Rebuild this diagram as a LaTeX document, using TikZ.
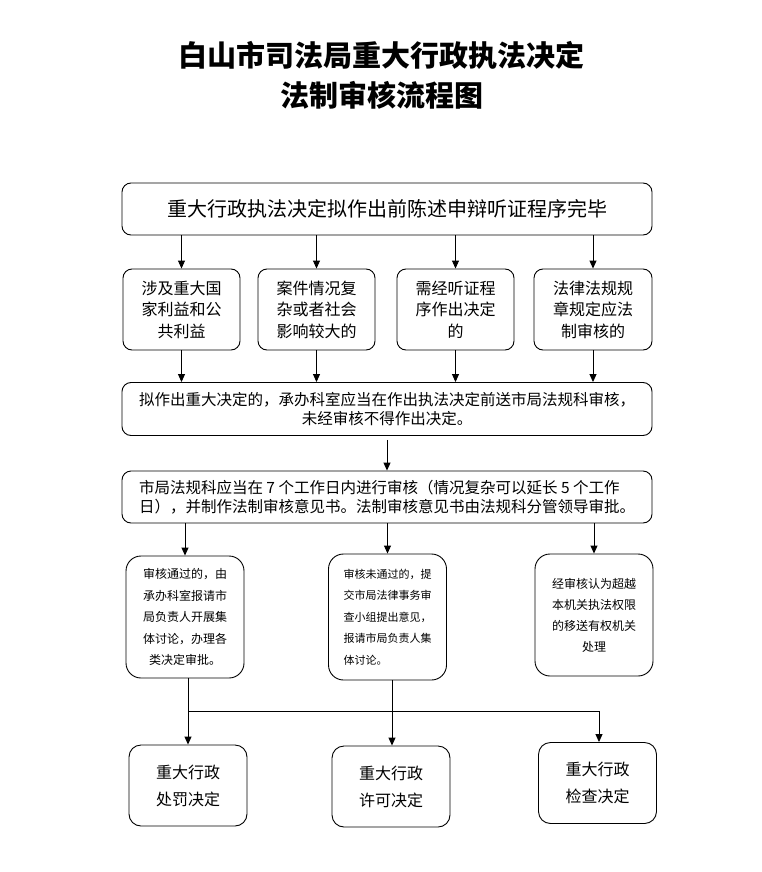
\documentclass[tikz,border=0pt]{standalone}
\usepackage{fontspec}
\setmainfont{Noto Sans CJK SC}
\usetikzlibrary{arrows.meta}
\begin{document}
\begin{tikzpicture}[x=1pt,y=-1pt,
  box/.style={draw, line width=0.9pt, rounded corners=9pt, inner sep=0pt, align=center},
  arr/.style={-{Triangle[length=8pt,width=7pt]}, line width=0.9pt},
  ln/.style={line width=0.9pt},
  rowone/.style={box, minimum width=117pt, minimum height=81pt, font=\fontsize{16}{21.5}\selectfont},
  rowthree/.style={box, rounded corners=15pt, minimum width=118pt, minimum height=122pt},
  rowfour/.style={box, rounded corners=12pt, minimum width=118pt, minimum height=81pt, font=\fontsize{16}{27}\selectfont}]
\useasboundingbox (0,0) rectangle (762,872);

\node[font=\fontsize{29}{40}\selectfont\bfseries, align=center] (title) at (381.5,75) {白山市司法局重大行政执法决定\\法制审核流程图};

\node[box, minimum width=530pt, minimum height=52pt, font=\fontsize{20}{24}\selectfont] (top) at (387,209) {重大行政执法决定拟作出前陈述申辩听证程序完毕};

\node[rowone] (b1) at (181.5,309.5) {涉及重大国\\家利益和公\\共利益};
\node[rowone] (b2) at (316.5,309.5) {案件情况复\\杂或者社会\\影响较大的};
\node[rowone] (b3) at (455.5,309.5) {需经听证程\\序作出决定\\的};
\node[rowone, minimum width=118pt] (b4) at (593,309.5) {法律法规规\\章规定应法\\制审核的};

\foreach \b in {b1,b2,b3,b4}{
  \draw[arr] (top.south -| \b) -- (\b.north);
}

\node[box, minimum width=530pt, minimum height=53pt, font=\fontsize{15.5}{19}\selectfont] (m1) at (387,409) {拟作出重大决定的，承办科室应当在作出执法决定前送市局法规科审核，\\未经审核不得作出决定。};

\foreach \b in {b1,b2,b3,b4}{
  \draw[arr] (\b.south) -- (\b.south |- m1.north);
}

\node[box, minimum width=530pt, minimum height=52pt, align=left, font=\fontsize{15.5}{18.5}\selectfont] (m2) at (387,497) {市局法规科应当在 7 个工作日内进行审核（情况复杂可以延长 5 个工作\\日），并制作法制审核意见书。法制审核意见书由法规科分管领导审批。};

\draw[arr] ([yshift=-4pt]m1.south) -- (m2.north);

\node[rowthree, font=\fontsize{12}{21.5}\selectfont] (A) at (185,617) {审核通过的，由\\承办科室报请市\\局负责人开展集\\体讨论，办理各\\类决定审批。};
\node[rowthree, minimum height=126pt, align=left, font=\fontsize{11}{21.5}\selectfont] (B) at (387.5,617) {审核未通过的，提\\交市局法律事务审\\查小组提出意见，\\报请市局负责人集\\体讨论。};
\node[rowthree, font=\fontsize{12}{21}\selectfont] (C) at (594,615) {经审核认为超越\\本机关执法权限\\的移送有权机关\\处理};

\foreach \b in {A,B,C}{
  \draw[arr] (m2.south -| \b) -- (\b.north);
}

\node[rowfour] (D1) at (188,785.5) {重大行政\\处罚决定};
\node[rowfour] (D2) at (391,786.5) {重大行政\\许可决定};
\node[rowfour] (D3) at (597.5,783) {重大行政\\检查决定};

\coordinate (jA) at (188,711);
\coordinate (jB) at (392,711);
\coordinate (jC) at (599,711);
\draw[ln] (A.south -| jA) -- (jA);
\draw[ln] (B.south -| jB) -- (jB);
\draw[ln] (jA) -- (jC);
\draw[arr] (jA) -- (jA |- D1.north);
\draw[arr] (jB) -- (jB |- D2.north);
\draw[arr] (jC) -- (jC |- D3.north);
\end{tikzpicture}
\end{document}
